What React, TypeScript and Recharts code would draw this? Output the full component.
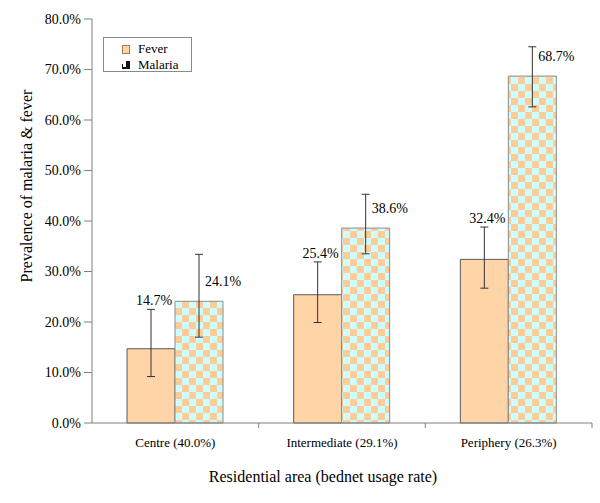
import { BarChart, Bar, XAxis, YAxis, ErrorBar, LabelList, Legend } from 'recharts';

const categories = ['Centre (40.0%)', 'Intermediate (29.1%)', 'Periphery (26.3%)'];
const fever = [14.7, 25.4, 32.4];
const malaria = [24.1, 38.6, 68.7];
// [minus, plus] error in percentage points
const feverErr = [[5.5, 7.8], [5.5, 6.5], [5.7, 6.4]];
const malariaErr = [[7.1, 9.3], [5.1, 6.7], [6.1, 5.8]];
const yTicks = [0, 10, 20, 30, 40, 50, 60, 70, 80];

const W = 600;
const H = 503;
const MARGIN = { top: 19, right: 8, left: 0, bottom: 0 };
const Y_AXIS_W = 92;
const PLOT_W = W - MARGIN.left - MARGIN.right - Y_AXIS_W;
const HALF_BAND = PLOT_W / categories.length / 2;

const FEVER_FILL = '#FFD4A6';
const AXIS = '#808080';
const FONT = '"Liberation Serif", "Times New Roman", serif';

const chartData = categories.map((name, i) => ({
  name,
  fever: fever[i],
  malaria: malaria[i],
  feverErr: feverErr[i],
  malariaErr: malariaErr[i],
}));

function box(props: any) {
  const vb = props.viewBox ?? props;
  return { x: Number(vb.x), y: Number(vb.y), width: Number(vb.width), height: Number(vb.height) };
}

function FeverLabel(props: any) {
  const { x, y, width, height } = box(props);
  const i = props.index;
  const perUnit = height / fever[i];
  const errTop = y - feverErr[i][1] * perUnit;
  return (
    <text x={x + width / 2 + 3} y={errTop - 4} textAnchor="middle" fontSize={14} fill="#000" fontFamily={FONT}>
      {fever[i].toFixed(1)}%
    </text>
  );
}

function MalariaLabel(props: any) {
  const { x, y, width } = box(props);
  const i = props.index;
  return (
    <text x={x + width / 2 + 6} y={y - 15} textAnchor="start" fontSize={14} fill="#000" fontFamily={FONT}>
      {malaria[i].toFixed(1)}%
    </text>
  );
}

function CategoryTick(props: any) {
  const { x, y, payload } = props;
  return (
    <g>
      <line x1={x + HALF_BAND} x2={x + HALF_BAND} y1={y} y2={y + 5} stroke={AXIS} />
      <text x={x} y={y + 24} textAnchor="middle" fontSize={13} fill="#000" fontFamily={FONT}>
        {payload.value}
      </text>
    </g>
  );
}

function YTitle(props: any) {
  const vb = props.viewBox;
  const cx = vb.x + 26;
  const cy = vb.y + vb.height / 2 - 35;
  return (
    <text
      x={cx}
      y={cy}
      transform={`rotate(-90 ${cx} ${cy})`}
      textAnchor="middle"
      dominantBaseline="central"
      fontSize={16}
      fill="#000"
      fontFamily={FONT}
    >
      Prevalence of malaria &amp; fever
    </text>
  );
}

function LegendBox() {
  const row = { position: 'absolute' as const, left: 18, display: 'flex', alignItems: 'center', fontSize: 13, lineHeight: '14px' };
  return (
    <div style={{ position: 'relative', width: 89, height: 35, border: '1px solid #8a8a8a', boxSizing: 'border-box', background: '#fff', fontFamily: FONT }}>
      <div style={{ ...row, top: 4 }}>
        <span style={{ display: 'inline-block', width: 6, height: 7, background: FEVER_FILL, border: '1px solid #b07a4a', marginRight: 8 }} />
        Fever
      </div>
      <div style={{ ...row, top: 20 }}>
        <svg width={8} height={8} style={{ marginRight: 8 }}>
          <rect x={0} y={0} width={8} height={8} fill="#fff" />
          <rect x={4} y={0} width={4} height={8} fill="#111" />
          <rect x={0} y={6} width={8} height={2} fill="#111" />
          <rect x={0} y={3} width={1} height={5} fill="#111" />
        </svg>
        Malaria
      </div>
    </div>
  );
}

export default function App() {
  return (
    <div style={{ position: 'absolute', left: 0, top: 0, width: W, height: H, background: '#fff', fontFamily: FONT }}>
      <svg width={0} height={0} style={{ position: 'absolute' }}>
        <defs>
          <pattern id="checker" width={14} height={14} patternUnits="userSpaceOnUse">
            <rect x={0} y={0} width={14} height={14} fill="#FFCC99" />
            <rect x={0} y={0} width={7} height={7} fill="#CCFFFF" />
            <rect x={7} y={7} width={7} height={7} fill="#CCFFFF" />
          </pattern>
        </defs>
      </svg>
      <BarChart width={W} height={H} data={chartData} margin={MARGIN} barCategoryGap="21%" barGap={0}>
        <XAxis
          dataKey="name"
          height={80}
          stroke={AXIS}
          tickLine={false}
          tickSize={0}
          tickMargin={0}
          tick={<CategoryTick />}
          interval={0}
          label={{ value: 'Residential area (bednet usage rate)', position: 'insideBottom', offset: 21, dx: -19, fontSize: 16, fill: '#000', fontFamily: FONT }}
        />
        <YAxis
          width={Y_AXIS_W}
          domain={[0, 80]}
          ticks={yTicks}
          stroke={AXIS}
          tickSize={8}
          tickMargin={3}
          tick={{ fill: '#000', fontSize: 14, fontFamily: FONT }}
          tickFormatter={(v: number) => v.toFixed(1) + '%'}
          label={{ content: YTitle }}
        />
        <Legend
          layout="horizontal"
          verticalAlign="middle"
          align="center"
          content={LegendBox}
          wrapperStyle={{ left: 103, top: 37, width: 89, height: 35 }}
        />
        <Bar dataKey="fever" fill={FEVER_FILL} stroke="#5a5a5a" strokeWidth={1} isAnimationActive={false}>
          <ErrorBar dataKey="feverErr" width={4} stroke="#333" strokeWidth={1} direction="y" />
          <LabelList dataKey="fever" content={FeverLabel} />
        </Bar>
        <Bar dataKey="malaria" fill="url(#checker)" stroke="#8c8c8c" strokeWidth={1} isAnimationActive={false}>
          <ErrorBar dataKey="malariaErr" width={4} stroke="#333" strokeWidth={1} direction="y" />
          <LabelList dataKey="malaria" content={MalariaLabel} />
        </Bar>
      </BarChart>
    </div>
  );
}
